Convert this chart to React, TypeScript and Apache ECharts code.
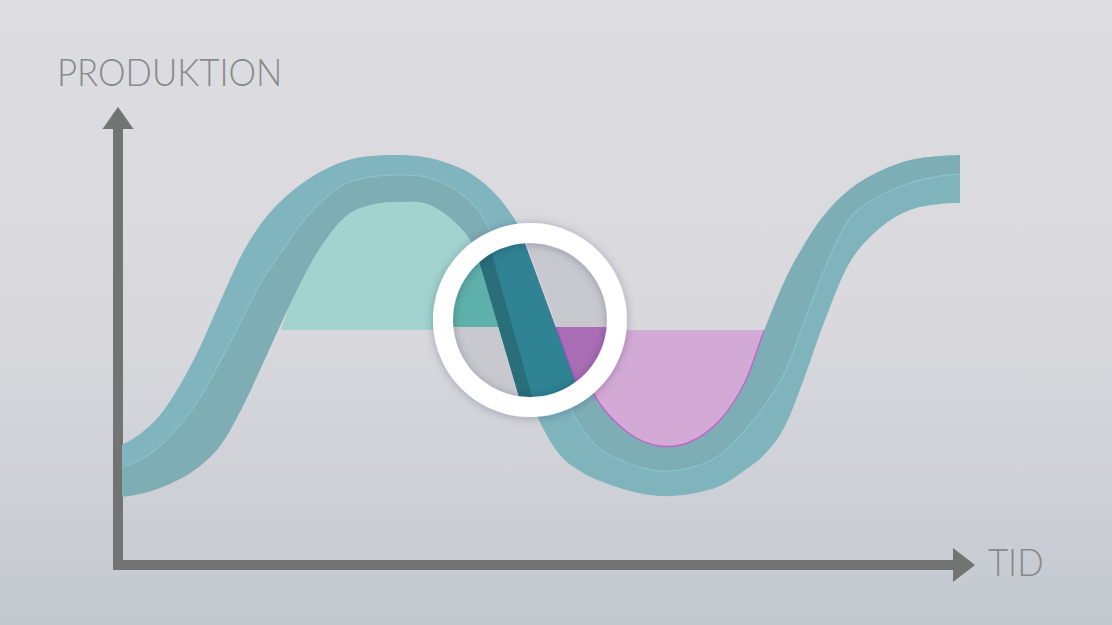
import React, { useEffect, useRef } from "react";
import * as echarts from "echarts";

// ---- data (time units on x, production units on y) ----
const timeX = [2, 11, 21, 31, 41, 51, 61, 71, 81, 91, 101, 113.5, 126, 141, 156, 171, 181, 191, 201, 211, 221, 231, 241, 256, 271, 286, 301, 313.5, 323.5, 333.5, 343.5, 353.5, 366, 381, 396, 411, 421];
const upperEdge = [60, 65.5, 75, 90, 109, 131.5, 153.5, 170, 181.5, 190, 196.5, 202, 204.5, 205, 203.5, 198.5, 192.5, 183, 168.5, 149.5, 125.5, 100.5, 80.5, 65.5, 59.5, 61.5, 72.5, 91.5, 118.5, 142.5, 161, 175.5, 188, 197, 202.5, 204.5, 205];
const midStripe = [49, 52.5, 59.5, 70, 83.5, 101.5, 121, 140.5, 155.5, 170, 181, 190.5, 194, 195, 193.5, 186, 176, 157.5, 132.5, 107.5, 88.5, 70, 58, 50.5, 47, 48.5, 55, 67.5, 80, 96.5, 122.5, 148.5, 173.5, 184.5, 191, 194.5, 195.5];
const lowerEdge = [34, 35.5, 38.5, 43, 49.5, 59.5, 76.5, 97.5, 119.5, 140.5, 158.5, 174, 180, 181.5, 180, 169, 153.5, 128, 98, 71.5, 55, 47, 42, 37, 34.5, 35.5, 39.5, 47.5, 55.5, 69.5, 94.5, 122.5, 151.5, 168.5, 177.5, 180.5, 181];

const targetLevel = 117.5;
const surplusX = [81.5, 91, 101, 113.5, 126, 141, 156, 171, 181, 191, 193.5];
const surplusY = [117.5, 143.5, 161.5, 177, 183, 184.5, 183, 172, 156.5, 131, 117.5];
const deficitX = [223, 231, 241, 256, 271, 286, 301, 313.5, 322.7];
const deficitY = [117.5, 97.5, 77.5, 62.5, 56.5, 58.5, 69.5, 88.5, 117.5];

const xMax = 423;
const yMax = 223.5;
const yAxisTitle = "PRODUKTION";
const xAxisTitle = "TID";

type P = [number, number];

// Catmull-Rom -> cubic bezier path through pixel points
function curve(pts: P[], move: boolean): string {
  let d = (move ? "M" : "L") + pts[0][0].toFixed(2) + "," + pts[0][1].toFixed(2);
  for (let i = 0; i < pts.length - 1; i++) {
    const p0 = pts[Math.max(i - 1, 0)];
    const p1 = pts[i];
    const p2 = pts[i + 1];
    const p3 = pts[Math.min(i + 2, pts.length - 1)];
    const lo = Math.min(p1[0], p2[0]);
    const hi = Math.max(p1[0], p2[0]);
    const c1x = Math.min(hi, Math.max(lo, p1[0] + (p2[0] - p0[0]) / 6));
    const c1y = p1[1] + (p2[1] - p0[1]) / 6;
    const c2x = Math.min(hi, Math.max(lo, p2[0] - (p3[0] - p1[0]) / 6));
    const c2y = p2[1] - (p3[1] - p1[1]) / 6;
    d += " C" + c1x.toFixed(2) + "," + c1y.toFixed(2) + " " + c2x.toFixed(2) + "," + c2y.toFixed(2) + " " + p2[0].toFixed(2) + "," + p2[1].toFixed(2);
  }
  return d;
}

// ---- magnifier decoration (geometry helpers) ----
function clip(poly: P[], f: (p: P) => number): P[] {
  const out: P[] = [];
  for (let i = 0; i < poly.length; i++) {
    const a = poly[i];
    const b = poly[(i + 1) % poly.length];
    const fa = f(a);
    const fb = f(b);
    if (fa >= 0) out.push(a);
    if ((fa >= 0) !== (fb >= 0)) {
      const t = fa / (fa - fb);
      out.push([a[0] + (b[0] - a[0]) * t, a[1] + (b[1] - a[1]) * t]);
    }
  }
  return out;
}
function buildMagnifier(): any[] {
  const cx = 530, cy = 320, rIn = 78, rOut = 97, split = 327;
  const L1: P[] = [[475, 247], [520, 400]];
  const L2: P[] = [[490, 247], [533, 400]];
  const L3: P[] = [[527, 247], [577, 383]];
  const side = (L: P[], p: P) =>
    (L[1][0] - L[0][0]) * (p[1] - L[0][1]) - (L[1][1] - L[0][1]) * (p[0] - L[0][0]);
  const circ: P[] = [];
  for (let i = 0; i < 144; i++) {
    const a = (i / 144) * Math.PI * 2;
    circ.push([cx + rIn * Math.cos(a), cy + rIn * Math.sin(a)]);
  }
  const teal = clip(clip(circ, (p) => split - p[1]), (p) => side(L1, p));
  const purple = clip(clip(circ, (p) => p[1] - split), (p) => -side(L3, p));
  const band = clip(clip(circ, (p) => -side(L1, p)), (p) => side(L3, p));
  const stripe = clip(clip(circ, (p) => -side(L1, p)), (p) => side(L2, p));
  const xs = L3[0][0] + ((split - L3[0][1]) * (L3[1][0] - L3[0][0])) / (L3[1][1] - L3[0][1]);
  return [
    { type: "circle", z: 10, silent: true, shape: { cx, cy, r: rIn }, style: { fill: "#c8c8cf" } },
    { type: "polygon", z: 11, silent: true, shape: { points: teal }, style: { fill: "#5eb0aa" } },
    { type: "polygon", z: 11, silent: true, shape: { points: purple }, style: { fill: "#a96db6" } },
    { type: "polygon", z: 12, silent: true, shape: { points: band }, style: { fill: "#2f8392" } },
    { type: "polygon", z: 13, silent: true, shape: { points: stripe }, style: { fill: "#2a6e7a" } },
    { type: "line", z: 14, silent: true, shape: { x1: 524.4, y1: 240, x2: xs, y2: split }, style: { stroke: "#e9cfe0", lineWidth: 1.2 } },
    { type: "line", z: 14, silent: true, shape: { x1: xs, y1: split, x2: 579, y2: 389 }, style: { stroke: "#c24fc6", lineWidth: 1.5 } },
    {
      type: "ring", z: 20, silent: true,
      shape: { cx, cy, r: rOut, r0: rIn - 1 },
      style: { fill: "#ffffff", shadowBlur: 10, shadowColor: "rgba(40,40,60,0.25)", shadowOffsetY: 1 },
    },
  ];
}

function grad(stops: [number, string][]) {
  return new echarts.graphic.LinearGradient(0, 0, 1, 0, stops.map(([offset, color]) => ({ offset, color })));
}

export default function App() {
  const ref = useRef<HTMLDivElement>(null);
  useEffect(() => {
    if (!ref.current) return;
    const chart = echarts.init(ref.current, undefined, { renderer: "svg" });
    const sw = 0.487;
    const axisColor = "#717473";

    const regionItem = (xs: number[], ys: number[], fill: string) => (params: any, api: any) => {
      if (params.dataIndex !== 0) return null;
      const pts = xs.map((x, i) => api.coord([x, ys[i]]) as P);
      return {
        type: "path",
        shape: { pathData: curve(pts, true) + " Z" },
        style: { fill, stroke: null },
      };
    };

    const bandItem = (params: any, api: any) => {
      if (params.dataIndex !== 0) return null;
      const top = timeX.map((x, i) => api.coord([x, upperEdge[i]]) as P);
      const mid = timeX.map((x, i) => api.coord([x, midStripe[i]]) as P);
      const bot = timeX.map((x, i) => api.coord([x, lowerEdge[i]]) as P);
      const lowerHalf = curve(mid, true) + " " + curve(bot.slice().reverse(), false) + " Z";
      const upperHalf = curve(top, true) + " " + curve(mid.slice().reverse(), false) + " Z";
      return {
        type: "group",
        children: [
          {
            type: "path",
            shape: { pathData: lowerHalf },
            style: { fill: grad([[0, "#7eadb4"], [sw, "#7eadb4"], [sw, "#80b4bd"], [1, "#80b4bd"]]), stroke: null },
          },
          {
            type: "path",
            shape: { pathData: upperHalf },
            style: { fill: grad([[0, "#80b4bf"], [sw, "#80b4bf"], [sw, "#7eaeb5"], [1, "#7eaeb5"]]), stroke: null },
          },
          {
            type: "path",
            shape: { pathData: curve(mid, true) },
            style: { fill: null, stroke: "rgba(142,198,206,0.6)", lineWidth: 1.3 },
          },
          {
            type: "path",
            shape: { pathData: curve(top, true) },
            style: {
              fill: null,
              lineWidth: 1.4,
              stroke: grad([
                [0, "rgba(194,90,200,0)"], [0.53, "rgba(194,90,200,0)"],
                [0.53, "rgba(194,90,200,0.85)"], [0.766, "rgba(194,90,200,0.85)"],
                [0.766, "rgba(194,90,200,0)"], [1, "rgba(194,90,200,0)"],
              ]),
            },
          },
        ],
      };
    };

    const option: any = {
      animation: false,
      backgroundColor: new echarts.graphic.LinearGradient(0, 0, 0, 1, [
        { offset: 0, color: "#dddce1" },
        { offset: 0.55, color: "#d8d8dd" },
        { offset: 1, color: "#c3c9cf" },
      ]),
      grid: { left: 118, right: 148, top: 118, bottom: 60, outerBoundsMode: "none" },
      xAxis: {
        type: "value", min: 0, max: xMax,
        axisLine: {
          show: true, onZero: false,
          symbol: ["none", "triangle"], symbolSize: [34, 22],
          lineStyle: { color: axisColor, width: 10, cap: "square" },
        },
        axisTick: { show: false }, axisLabel: { show: false }, splitLine: { show: false },
      },
      yAxis: {
        type: "value", min: 0, max: yMax,
        axisLine: {
          show: true, onZero: false,
          symbol: ["none", "triangle"], symbolSize: [31, 22],
          lineStyle: { color: axisColor, width: 10, cap: "square" },
        },
        axisTick: { show: false }, axisLabel: { show: false }, splitLine: { show: false },
      },
      series: [
        {
          type: "custom", name: "surplus", coordinateSystem: "cartesian2d", silent: true, z: 1, clip: false,
          data: surplusX.map((x, i) => [x, surplusY[i], targetLevel]),
          encode: { x: 0, y: [1, 2] },
          renderItem: regionItem(surplusX, surplusY, "#a2d3cf"),
        },
        {
          type: "custom", name: "deficit", coordinateSystem: "cartesian2d", silent: true, z: 1, clip: false,
          data: deficitX.map((x, i) => [x, deficitY[i], targetLevel]),
          encode: { x: 0, y: [1, 2] },
          renderItem: regionItem(deficitX, deficitY, "#d3aad6"),
        },
        {
          type: "custom", name: "band", coordinateSystem: "cartesian2d", silent: true, z: 3, clip: false,
          data: timeX.map((x, i) => [x, lowerEdge[i], midStripe[i], upperEdge[i]]),
          encode: { x: 0, y: [1, 2, 3] },
          renderItem: bandItem,
        },
      ],
      graphic: [
        {
          type: "text", x: 57, y: 71, z: 30, silent: true, scaleX: 0.915,
          style: { text: yAxisTitle, fill: "#878a8a", fontSize: 38, fontFamily: "Lato", fontWeight: 300, textAlign: "left", textVerticalAlign: "middle" },
        },
        {
          type: "text", x: 988, y: 561, z: 30, silent: true, scaleX: 0.915,
          style: { text: xAxisTitle, fill: "#878a8a", fontSize: 38, fontFamily: "Lato", fontWeight: 300, textAlign: "left", textVerticalAlign: "middle" },
        },
        ...buildMagnifier(),
      ],
    };
    chart.setOption(option);
    return () => chart.dispose();
  }, []);
  return <div ref={ref} style={{ position: "fixed", left: 0, top: 0, width: 1112, height: 625 }} />;
}
